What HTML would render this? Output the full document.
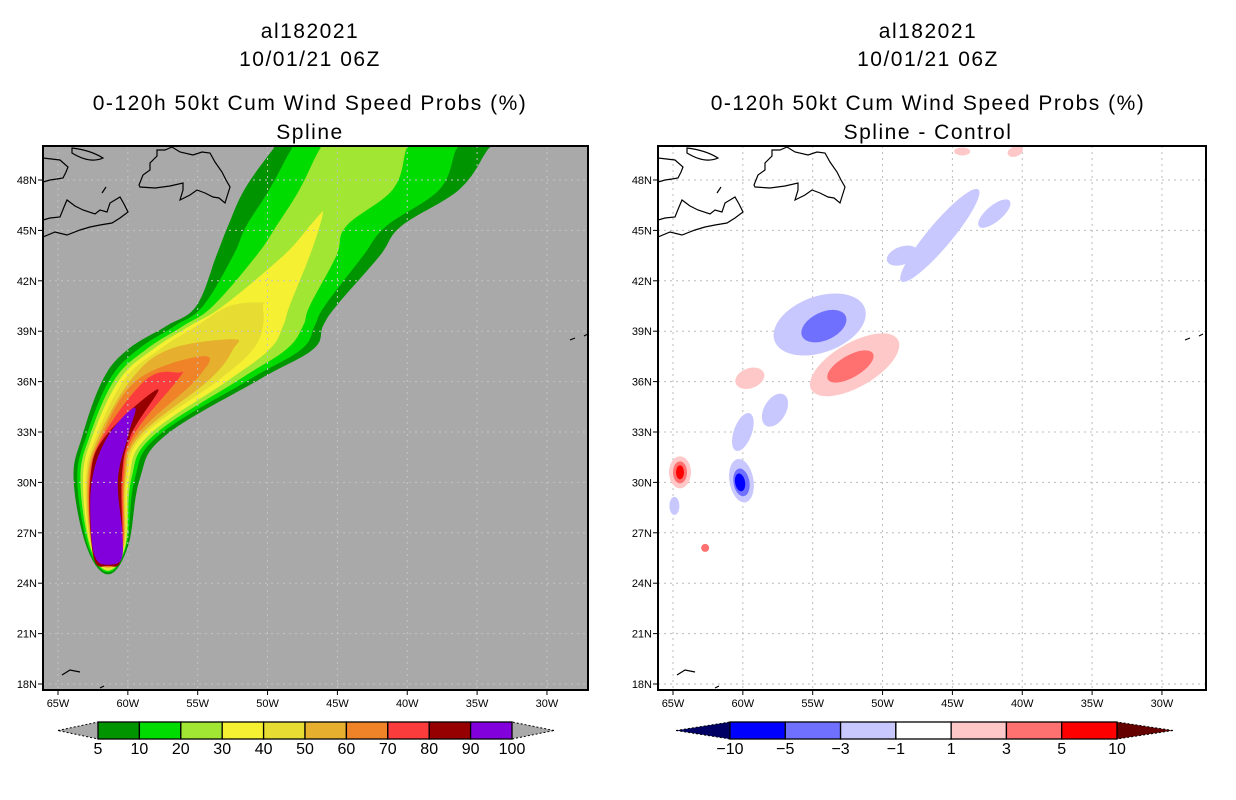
<!DOCTYPE html>
<html><head><meta charset="utf-8">
<style>
html,body{margin:0;padding:0;background:#fff;}
svg{display:block;}
text{font-family:"Liberation Sans",sans-serif;fill:#000;}
</style></head>
<body>
<svg id="fig" width="1236" height="800" viewBox="0 0 1236 800" xmlns="http://www.w3.org/2000/svg">
  <g font-size="21" text-anchor="middle" letter-spacing="1.5">
    <text x="310" y="38">al182021</text>
    <text x="310" y="66">10/01/21 06Z</text>
    <text x="310" y="110">0-120h 50kt Cum Wind Speed Probs (%)</text>
    <text x="310" y="139">Spline</text>
  </g>
  <g font-size="21" text-anchor="middle" letter-spacing="1.5">
    <text x="928" y="38">al182021</text>
    <text x="928" y="66">10/01/21 06Z</text>
    <text x="928" y="110">0-120h 50kt Cum Wind Speed Probs (%)</text>
    <text x="928" y="139">Spline - Control</text>
  </g>
  <defs>
    <clipPath id="clipL"><rect x="43" y="146" width="545" height="544"/></clipPath>
    <clipPath id="clipR"><rect x="658" y="146" width="548" height="544"/></clipPath>
  </defs>
  <rect x="43" y="146" width="545" height="544" fill="#a9a9a9"/>
  <g id="plume" clip-path="url(#clipL)"></g>
  <g id="gridL" clip-path="url(#clipL)"></g>
  <g id="coastL" clip-path="url(#clipL)"></g>
  <rect x="43" y="146" width="545" height="544" fill="none" stroke="#000" stroke-width="2"/>
  <g id="axesL"></g>

  <rect x="658" y="146" width="548" height="544" fill="#fff"/>
  <g id="gridR" clip-path="url(#clipR)"></g>
  <g id="diff" clip-path="url(#clipR)"></g>
  <g id="coastR" clip-path="url(#clipR)"></g>
  <rect x="658" y="146" width="548" height="544" fill="none" stroke="#000" stroke-width="2"/>
  <g id="axesR"></g>

  <g id="cbL"></g>
  <g id="cbR"></g>
</svg>
<script>
// ---- data ----
const lonTicks = [65,60,55,50,45,40,35,30];
const latTicks = [18,21,24,27,30,33,36,39,42,45,48];
const probLevels = [5,10,20,30,40,50,60,70,80,90,100];
const probColors = ['#009400','#00dc00','#a0e632','#f5f032','#e6dc32','#e6af2d','#f08228','#fa3c3c','#960000','#8200dc'];
// contour outlines per level: latitude rows, west edge lon(W), east edge lon(W)
const lat5  = [24.53,26.21,30.18,32.76,36.13,37.92,39.31,40.5,43.48,45.26,47.45,49.83,50.62];
const west5 = [61.42,62.97,63.88,63.26,61.78,59.99,57.24,55.10,53.67,52.83,51.64,49.61,48.77];
const east5 = [61.42,59.99,59.15,57.36,50.57,46.74,46.03,45.08,41.97,40.42,36.25,34.22,33.38];
const lat10  = [24.65,26.21,30.18,32.76,36.13,37.92,39.31,40.5,43.48,45.26,47.45,49.83,50.62];
const west10 = [61.42,62.85,63.62,62.97,61.30,59.27,56.65,54.62,52.47,51.52,49.85,48.29,47.46];
const east10 = [61.42,60.11,59.51,57.84,51.28,47.58,46.63,45.91,43.17,41.49,37.68,36.49,35.65];
const lat20  = [24.73,26.21,30.18,32.76,36.13,37.92,39.31,40.5,43.48,45.26,47.45,49.83,50.62];
const west20 = [61.42,62.73,63.40,62.73,60.94,58.68,56.05,53.91,50.81,49.37,47.70,46.27,45.43];
const east20 = [61.42,60.16,59.75,58.20,52.00,48.65,47.46,46.98,45.08,44.36,41.02,40.07,39.59];
const lat30  = [24.80,26.21,30.18,32.76,36.13,37.92,39.31,40.5,43.48,45.26,46.05];
const west30 = [61.42,62.67,63.21,62.52,60.59,58.20,55.57,53.19,48.89,46.98,46.15];
const east30 = [61.42,60.21,59.92,58.56,52.71,49.85,48.89,48.42,46.98,46.27,46.03];
const lat40  = [24.86,26.21,30.18,32.76,36.13,37.92,39.31,40.5,40.7];
const west40 = [61.42,62.63,63.02,62.26,60.23,57.72,55.10,52.71,50.33];
const east40 = [61.42,60.25,60.06,58.92,53.43,51.04,50.33,50.33,50.33];
const lat50  = [24.92,26.21,30.18,32.76,36.13,37.92,38.52];
const west50 = [61.42,62.59,62.90,62.07,59.75,57.01,52.47];
const east50 = [61.42,60.30,60.18,59.15,54.14,52.47,52.47];
const lat60  = [24.96,26.21,30.18,32.76,36.13,37.52];
const west60 = [61.42,62.54,62.81,61.90,59.27,54.50];
const east60 = [61.42,60.35,60.25,59.39,55.10,54.50];
const lat70  = [25.0,26.21,30.18,32.76,36.13,36.53];
const west70 = [61.42,62.52,62.73,61.78,58.68,56.41];
const east70 = [61.42,60.40,60.35,59.63,56.41,56.41];
const lat80  = [25.04,25.62,30.18,32.76,35.54];
const west80 = [61.42,62.47,62.69,61.59,57.84];
const east80 = [61.42,60.44,60.44,59.82,57.84];
const lat90  = [25.10,25.42,27.01,30.18,32.76,34.45];
const west90 = [61.42,62.26,62.63,62.56,61.42,59.51];
const east90 = [61.42,60.47,60.40,60.71,59.99,59.51];

const diffLevels = [-10,-5,-3,-1,1,3,5,10];
const diffColors = ['#0000ff','#7070ff','#c8c8ff','#ffffff','#ffc8c8','#ff7070','#ff0000'];
// difference blobs: lon(W), lat, rx, ry, rotation, value
const blobLon = [54.5,54.2,52.0,52.3,59.5,57.7,60.0,60.1,60.1,60.2,64.5,64.5,64.5,64.9,62.7,45.9,42.0,48.6,40.5,44.3];
const blobLat = [39.4,39.3,37.0,36.9,36.2,34.3,33.0,30.1,30.0,30.0,30.6,30.6,30.6,28.6,26.1,44.7,46.0,43.5,49.7,49.7];
const blobRx  = [48,24,50,26,15,18,9,12,8,5,11,7,4,5,4,60,20,16,8,8];
const blobRy  = [28,14,22,11,10,11,20,22,14,9,16,11,7,9,4,12,8,9,5,4];
const blobRot = [-20,-25,-30,-30,-20,-60,20,-10,-10,-10,0,0,0,0,0,-50,-40,-20,-20,0];
const blobVal = [-2,-4,2,4,2,-2,-2,-2,-4,-7,2,4,7,-2,4,-2,-2,-2,2,2];

// ---- projection ----
const NS='http://www.w3.org/2000/svg';
function X(lonW){return 58+(65-lonW)*13.97;}
function Y(lat){return 684-(lat-18)*16.8;}
function mk(tag,attrs,parent){const e=document.createElementNS(NS,tag);for(const k in attrs)e.setAttribute(k,attrs[k]);parent.appendChild(e);return e;}

// ---- plume ----
const plume=document.getElementById('plume');
const contours=[[lat5,west5,east5],[lat10,west10,east10],[lat20,west20,east20],[lat30,west30,east30],[lat40,west40,east40],[lat50,west50,east50],[lat60,west60,east60],[lat70,west70,east70],[lat80,west80,east80],[lat90,west90,east90]];
function smoothPath(pts,closed){
  const n=pts.length;let d='M'+pts[0][0].toFixed(1)+','+pts[0][1].toFixed(1);
  for(let i=0;i<n-(closed?0:1);i++){
    const p0=pts[(i-1+n)%n],p1=pts[i],p2=pts[(i+1)%n],p3=pts[(i+2)%n];
    const t=0.18;
    const c1=[p1[0]+(p2[0]-p0[0])*t,p1[1]+(p2[1]-p0[1])*t];
    const c2=[p2[0]-(p3[0]-p1[0])*t,p2[1]-(p3[1]-p1[1])*t];
    d+='C'+c1[0].toFixed(1)+','+c1[1].toFixed(1)+' '+c2[0].toFixed(1)+','+c2[1].toFixed(1)+' '+p2[0].toFixed(1)+','+p2[1].toFixed(1);
  }
  return d+'Z';
}
contours.forEach(([la,we,ea],i)=>{
  const pts=[];
  for(let k=0;k<la.length;k++)pts.push([X(we[k]),Y(la[k])]);
  for(let k=la.length-1;k>=1;k--){const p=[X(ea[k]),Y(la[k])];
    const q=pts[pts.length-1];if(Math.hypot(p[0]-q[0],p[1]-q[1])>0.5)pts.push(p);}
  const p=mk('path',{d:smoothPath(pts,true),fill:probColors[i]},plume);
  
  
});

// ---- grids & axes ----
function grid(id,dx,col){const g=document.getElementById(id);
  lonTicks.forEach(l=>{const x=X(l)+dx;mk('line',{x1:x,y1:146,x2:x,y2:690,stroke:col,'stroke-width':1,'stroke-dasharray':'2,4'},g);});
  latTicks.forEach(l=>{const y=Y(l);mk('line',{x1:43+dx,y1:y,x2:588+dx+3,y2:y,stroke:col,'stroke-width':1,'stroke-dasharray':'2,4'},g);});}
grid('gridL',0,'#c4c4c4');grid('gridR',615,'#bbbbbb');
function axes(id,dx){const g=document.getElementById(id);
  lonTicks.forEach(l=>{const x=X(l)+dx;mk('line',{x1:x,y1:690,x2:x,y2:695,stroke:'#000'},g);
    const t=mk('text',{x:x,y:707,'font-size':11,'text-anchor':'middle'},g);t.textContent=l+'W';
    });
  latTicks.forEach(l=>{const y=Y(l);mk('line',{x1:38+dx,y1:y,x2:43+dx,y2:y,stroke:'#000'},g);
    const t=mk('text',{x:37+dx,y:y+4,'font-size':11,'text-anchor':'end'},g);t.textContent=l+'N';
    });}
axes('axesL',0);axes('axesR',615);

// ---- coastline ----
const coast=['M139,185L143,175L150,170L150,163L157,156L157,150L165,150L172,147L180,152L193,155L202,152L210,153L215,162L222,172L226,180L230,187L225,203L219,198L213,197L205,193L197,190L190,195L180,200L183,190L183,183L170,186L155,188L140,187Z',
 'M43,237L55,232L67,235L80,230L90,227L100,225L112,223L120,218L128,212L124,204L120,197L115,200L110,203L107,212L100,210L95,214L83,210L75,206L67,200L64,207L60,217L50,218L43,220',
 'M43,158L60,160L68,167L66,172L63,178L57,179L50,180L43,182','M72,148Q90,150 103,158Q90,164 72,153Z','M102,193L106,187',
 'M62,675L70,670L80,672','M100,688L104,686','M570,340L575,338','M588,334L584,336'];
function drawCoast(id,dx){const g=document.getElementById(id);
  coast.forEach(d=>{mk('path',{d:d,fill:'none',stroke:'#000','stroke-width':1.2,transform:'translate('+dx+',0)'},g);});}
drawCoast('coastL',0);drawCoast('coastR',615);

// ---- difference blobs ----
const diff=document.getElementById('diff');
function dcol(v){for(let i=0;i<diffLevels.length-1;i++){if(v>=diffLevels[i]&&v<diffLevels[i+1])return diffColors[i];}return v<0?diffColors[0]:diffColors[6];}
blobLon.forEach((lon,i)=>{const x=X(lon)+615,y=Y(blobLat[i]);
  const e=mk('ellipse',{cx:x,cy:y,rx:blobRx[i],ry:blobRy[i],fill:dcol(blobVal[i]),transform:'rotate('+blobRot[i]+' '+x+' '+y+')'},diff);
  });

// ---- colorbars ----
function colorbar(id,x0,x1,tipL,tipR,cols,labels,lcol,rcol){const g=document.getElementById(id);
  const y0=722,y1=739,ym=(y0+y1)/2,n=cols.length,w=(x1-x0)/n;
  mk('polygon',{points:tipL+','+ym+' '+x0+','+y0+' '+x0+','+y1,fill:lcol,stroke:'#000','stroke-width':1,'stroke-dasharray':'2,2'},g);
  mk('polygon',{points:tipR+','+ym+' '+x1+','+y0+' '+x1+','+y1,fill:rcol,stroke:'#000','stroke-width':1,'stroke-dasharray':'2,2'},g);
  cols.forEach((c,i)=>{const r=mk('rect',{x:x0+i*w,y:y0,width:w,height:y1-y0,fill:c,stroke:'#000','stroke-width':1.3},g);
    });
  labels.forEach((l,i)=>{const t=mk('text',{x:x0+i*w,y:754,'font-size':16,'text-anchor':'middle'},g);t.textContent=l;
    });}
colorbar('cbL',98,512,58,554,probColors,probLevels,'#a9a9a9','#a9a9a9');
colorbar('cbR',730,1117,676,1173,diffColors,diffLevels.map(v=>v<0?'\u2212'+(-v):v),'#000064','#640000');
</script>
</body></html>
